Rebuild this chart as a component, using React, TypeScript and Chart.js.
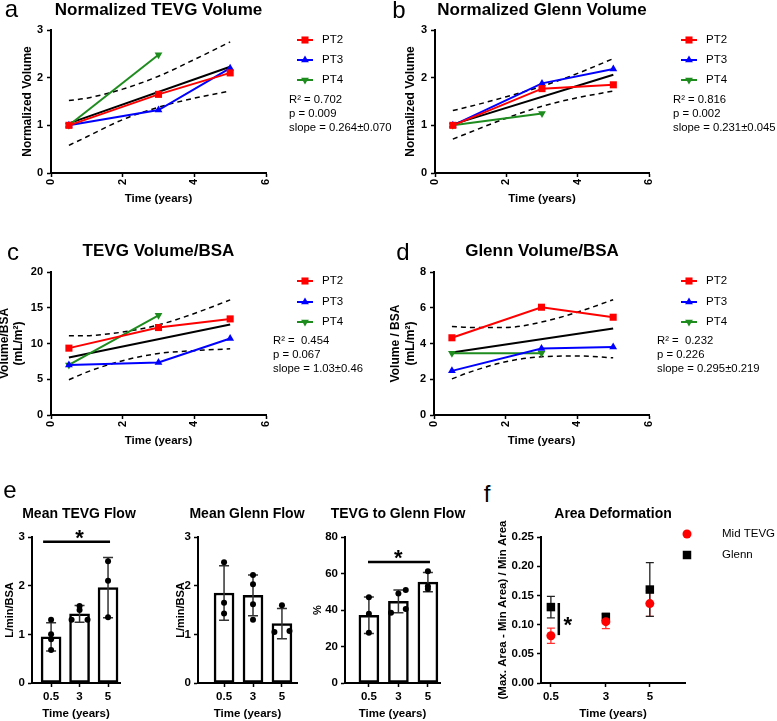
import React, { useEffect, useRef } from 'react';
import { Chart, registerables } from 'chart.js';
Chart.register(...registerables);

const FONT = "'Liberation Sans', Arial, Helvetica, sans-serif";
const RED = '#ff0000';
const BLUE = '#0000ff';
const GREEN = '#1e8c1e';
const BLACK = '#000000';

// ---------- shared x values and tick labels ----------
const timesAll = [0.5, 3, 5];
const timesPT4 = [0.5, 3];
const fitTimes = [0.5, 5];
const bandTimes = [0.5, 1, 2, 3, 4, 5];
const lineXTicks = [0, 2, 4, 6];
const seriesLabels = ['PT2', 'PT3', 'PT4'];

// ---------- a: Normalized TEVG Volume ----------
const aPT2 = [1.0, 1.65, 2.1];
const aPT3 = [1.0, 1.32, 2.2];
const aPT4 = [1.0, 2.48];
const aFit = [1.04, 2.23];
const aUpper = [1.52, 1.57, 1.76, 2.03, 2.38, 2.75];
const aLower = [0.58, 0.76, 1.12, 1.38, 1.57, 1.72];
const aYTicks = [0, 1, 2, 3];
const aStats = ['R² = 0.702', 'p = 0.009', 'slope = 0.264±0.070'];

// ---------- b: Normalized Glenn Volume ----------
const bPT2 = [1.0, 1.77, 1.85];
const bPT3 = [1.0, 1.88, 2.18];
const bPT4 = [1.0, 1.25];
const bFit = [1.02, 2.06];
const bUpper = [1.31, 1.4, 1.6, 1.82, 2.09, 2.4];
const bLower = [0.71, 0.86, 1.15, 1.4, 1.58, 1.72];
const bYTicks = [0, 1, 2, 3];
const bStats = ['R² = 0.816', 'p = 0.002', 'slope = 0.231±0.045'];

// ---------- c: TEVG Volume/BSA ----------
const cPT2 = [9.35, 12.23, 13.44];
const cPT3 = [7.0, 7.35, 10.7];
const cPT4 = [7.0, 13.95];
const cFit = [8.05, 12.65];
const cUpper = [11.07, 11.1, 11.6, 12.6, 14.2, 16.1];
const cLower = [4.93, 6.0, 7.6, 8.6, 9.0, 9.25];
const cYTicks = [0, 5, 10, 15, 20];
const cStats = ['R² =  0.454', 'p = 0.067', 'slope = 1.03±0.46'];

// ---------- d: Glenn Volume/BSA ----------
const dPT2 = [4.32, 6.03, 5.47];
const dPT3 = [2.47, 3.72, 3.8];
const dPT4 = [3.46, 3.46];
const dFit = [3.5, 4.84];
const dUpper = [4.95, 4.9, 4.9, 5.2, 5.75, 6.45];
const dLower = [2.02, 2.4, 2.98, 3.26, 3.3, 3.2];
const dYTicks = [0, 2, 4, 6, 8];
const dStats = ['R² =  0.232', 'p = 0.226', 'slope = 0.295±0.219'];

// ---------- e: flows ----------
const eCats = ['0.5', '3', '5'];
const e1Mean = [0.95, 1.42, 1.96];
const e1SD = [0.29, 0.17, 0.62];
const e1Dots = [[1.3, 1.0, 0.9, 0.68], [1.58, 1.5, 1.3, 1.3], [2.5, 2.1, 1.35]];
const e1YTicks = [0, 1, 2, 3];

const e2Mean = [1.85, 1.8, 1.22];
const e2SD = [0.56, 0.42, 0.31];
const e2Dots = [[2.48, 1.65, 1.43], [2.22, 2.03, 1.62, 1.3], [1.6, 1.05, 1.07]];
const e2YTicks = [0, 1, 2, 3];

const e3Mean = [37.1, 44.7, 55.3];
const e3SD = [10.0, 6.2, 5.3];
const e3Dots = [[47, 38, 27.5], [51, 49, 38.5, 40.5], [61.3, 53, 51.5]];
const e3YTicks = [0, 20, 40, 60, 80];

// ---------- f: Area Deformation ----------
const fTimes = [0.5, 3, 5];
const fTickLabels = ['0.5', '3', '5'];
const fMidTEVG = [0.081, 0.105, 0.136];
const fMidTEVGErr = [0.013, 0.012, 0.022];
const fGlenn = [0.13, 0.113, 0.16];
const fGlennErr = [0.0185, 0.006, 0.046];
const fYTicks = [0, 0.05, 0.1, 0.15, 0.2, 0.25];

// ---------- helpers ----------
type Box = { x: number; y: number; w: number; h: number };
type Area = { l: number; t: number; r: number; b: number };

const pts = (xs: number[], ys: number[]) => ys.map((y, i) => ({ x: xs[i], y }));

function drawMarker(ctx: CanvasRenderingContext2D, style: string, x: number, y: number, r: number, color: string, rot = 0) {
  ctx.save();
  ctx.fillStyle = color;
  ctx.beginPath();
  if (style === 'rect') {
    const s = r * Math.SQRT1_2;
    ctx.rect(x - s, y - s, 2 * s, 2 * s);
  } else if (style === 'triangle') {
    let rad = (rot * Math.PI) / 180;
    ctx.moveTo(x + Math.sin(rad) * r, y - Math.cos(rad) * r);
    rad += (2 * Math.PI) / 3;
    ctx.lineTo(x + Math.sin(rad) * r, y - Math.cos(rad) * r);
    rad += (2 * Math.PI) / 3;
    ctx.lineTo(x + Math.sin(rad) * r, y - Math.cos(rad) * r);
    ctx.closePath();
  } else {
    ctx.arc(x, y, r, 0, Math.PI * 2);
  }
  ctx.fill();
  ctx.restore();
}

type LegendItem = { label: string; color: string; style: string; r: number; rot?: number };

function legendPlugin(box: Box, items: LegendItem[], x0: number, x1: number, textX: number, ys: number[], size: number) {
  return {
    id: 'customLegend',
    afterDraw(chart: any) {
      const ctx = chart.ctx as CanvasRenderingContext2D;
      items.forEach((it, i) => {
        const y = ys[i] - box.y;
        ctx.save();
        if (x1 > x0) {
          ctx.strokeStyle = it.color;
          ctx.lineWidth = 2;
          ctx.beginPath();
          ctx.moveTo(x0 - box.x, y);
          ctx.lineTo(x1 - box.x, y);
          ctx.stroke();
        }
        drawMarker(ctx, it.style, (x0 + x1) / 2 - box.x, y, it.r, it.color, it.rot || 0);
        ctx.fillStyle = BLACK;
        ctx.font = `${size}px ${FONT}`;
        ctx.textAlign = 'left';
        ctx.textBaseline = 'middle';
        ctx.fillText(it.label, textX - box.x, y);
        ctx.restore();
      });
    },
  };
}

function barErrPlugin(sd: number[]) {
  return {
    id: 'barErr',
    afterDatasetDraw(chart: any, args: any) {
      if (args.index !== 0) return;
      const meta = chart.getDatasetMeta(0);
      const ys = chart.scales.y;
      const ctx = chart.ctx as CanvasRenderingContext2D;
      meta.data.forEach((el: any, i: number) => {
        const v = chart.data.datasets[0].data[i].y;
        const top = ys.getPixelForValue(v + sd[i]);
        const bot = ys.getPixelForValue(v - sd[i]);
        ctx.save();
        ctx.strokeStyle = '#333';
        ctx.lineWidth = 1.5;
        ctx.beginPath();
        ctx.moveTo(el.x, top);
        ctx.lineTo(el.x, bot);
        ctx.moveTo(el.x - 5, top);
        ctx.lineTo(el.x + 5, top);
        ctx.moveTo(el.x - 5, bot);
        ctx.lineTo(el.x + 5, bot);
        ctx.stroke();
        ctx.restore();
      });
    },
  };
}

function pointErrPlugin(errs: number[][], colors: string[]) {
  return {
    id: 'pointErr',
    beforeDatasetsDraw(chart: any) {
      const ys = chart.scales.y;
      const xs = chart.scales.x;
      const ctx = chart.ctx as CanvasRenderingContext2D;
      errs.forEach((err, d) => {
        chart.data.datasets[d].data.forEach((p: any, i: number) => {
          const x = xs.getPixelForValue(p.x);
          const top = ys.getPixelForValue(p.y + err[i]);
          const bot = ys.getPixelForValue(p.y - err[i]);
          ctx.save();
          ctx.strokeStyle = colors[d];
          ctx.lineWidth = 1.3;
          ctx.beginPath();
          ctx.moveTo(x, top);
          ctx.lineTo(x, bot);
          ctx.moveTo(x - 4, top);
          ctx.lineTo(x + 4, top);
          ctx.moveTo(x - 4, bot);
          ctx.lineTo(x + 4, bot);
          ctx.stroke();
          ctx.restore();
        });
      });
    },
  };
}

// lines: [x1, y1, x2, y2] in data units; stars: [x, y] glyph centre in data units
function sigPlugin(lines: number[][], stars: number[][], size: number) {
  return {
    id: 'sig',
    afterDatasetsDraw(chart: any) {
      const xs = chart.scales.x;
      const ys = chart.scales.y;
      const ctx = chart.ctx as CanvasRenderingContext2D;
      ctx.save();
      ctx.strokeStyle = BLACK;
      ctx.lineWidth = 2.5;
      lines.forEach(([x1, y1, x2, y2]) => {
        ctx.beginPath();
        ctx.moveTo(xs.getPixelForValue(x1), ys.getPixelForValue(y1));
        ctx.lineTo(xs.getPixelForValue(x2), ys.getPixelForValue(y2));
        ctx.stroke();
      });
      ctx.fillStyle = BLACK;
      ctx.font = `bold ${size}px ${FONT}`;
      ctx.textAlign = 'center';
      ctx.textBaseline = 'alphabetic';
      stars.forEach(([x, y]) => {
        ctx.fillText('*', xs.getPixelForValue(x), ys.getPixelForValue(y) + 0.57 * size);
      });
      ctx.restore();
    },
  };
}

function axisCommon() {
  return {
    grid: { display: true, drawOnChartArea: false, drawTicks: true, tickLength: 4, tickWidth: 1.5, tickColor: BLACK },
    border: { display: true, color: BLACK, width: 2 },
  };
}

function frame(box: Box, area: Area) {
  return {
    yW: area.l - box.x,
    xH: box.y + box.h - area.b,
    padTop: area.t - box.y,
    padRight: box.x + box.w - area.r,
  };
}

type LinePanel = {
  box: Box; area: Area;
  pt2: number[]; pt3: number[]; pt4: number[]; fit: number[]; upper: number[]; lower: number[];
  yTicks: number[]; yTitle: string | string[]; yTitlePad: number; yTitleLH: number;
  legendX0: number; legendY: number[];
};

function lineConfig(p: LinePanel) {
  const f = frame(p.box, p.area);
  const ci = { borderColor: BLACK, borderWidth: 1.5, borderDash: [5, 4], pointRadius: 0, showLine: true, cubicInterpolationMode: 'monotone' };
  const items: LegendItem[] = [
    { label: seriesLabels[0], color: RED, style: 'rect', r: 5 },
    { label: seriesLabels[1], color: BLUE, style: 'triangle', r: 4.5 },
    { label: seriesLabels[2], color: GREEN, style: 'triangle', r: 4.5, rot: 180 },
  ];
  return {
    type: 'scatter',
    data: {
      datasets: [
        { data: pts(timesAll, p.pt2), borderColor: RED, backgroundColor: RED, borderWidth: 2, showLine: true, pointStyle: 'rect', pointRadius: 5, pointBorderWidth: 0 },
        { data: pts(timesAll, p.pt3), borderColor: BLUE, backgroundColor: BLUE, borderWidth: 2, showLine: true, pointStyle: 'triangle', pointRadius: 4.5, pointBorderWidth: 0 },
        { data: pts(timesPT4, p.pt4), borderColor: GREEN, backgroundColor: GREEN, borderWidth: 2, showLine: true, pointStyle: 'triangle', pointRotation: 180, pointRadius: 4.5, pointBorderWidth: 0 },
        { data: pts(fitTimes, p.fit), borderColor: BLACK, borderWidth: 2, pointRadius: 0, showLine: true },
        { data: pts(bandTimes, p.upper), ...ci },
        { data: pts(bandTimes, p.lower), ...ci },
      ],
    },
    options: {
      responsive: false,
      animation: false,
      devicePixelRatio: 1,
      layout: { padding: { left: 0, top: f.padTop, right: f.padRight, bottom: 0 } },
      plugins: { legend: { display: false }, tooltip: { enabled: false } },
      scales: {
        x: {
          type: 'linear', min: 0, max: 6,
          ...axisCommon(),
          afterBuildTicks: (s: any) => { s.ticks = lineXTicks.map((v) => ({ value: v })); },
          ticks: { color: BLACK, font: { family: FONT, size: 11, weight: 'bold' }, minRotation: 90, maxRotation: 90, padding: 2 },
          title: { display: true, text: 'Time (years)', color: BLACK, font: { family: FONT, size: 11.5, weight: 'bold' }, padding: { top: 0, bottom: 0 } },
          afterFit: (s: any) => { s.height = f.xH; },
        },
        y: {
          type: 'linear', min: p.yTicks[0], max: p.yTicks[p.yTicks.length - 1],
          ...axisCommon(),
          afterBuildTicks: (s: any) => { s.ticks = p.yTicks.map((v) => ({ value: v })); },
          ticks: { color: BLACK, font: { family: FONT, size: 11, weight: 'bold' }, padding: 4 },
          title: { display: true, text: p.yTitle, color: BLACK, font: { family: FONT, size: 12, weight: 'bold', lineHeight: p.yTitleLH }, padding: { top: p.yTitlePad, bottom: 0 } },
          afterFit: (s: any) => { s.width = f.yW; },
        },
      },
    },
    plugins: [legendPlugin(p.box, items, p.legendX0, p.legendX0 + 16, p.legendX0 + 25, p.legendY, 11.5)],
  };
}

type BarPanel = {
  box: Box; area: Area; mean: number[]; sd: number[]; dots: number[][]; jitter: number[][];
  xMin: number; xMax: number; yTicks: number[]; yTitle: string; yTitlePad: number;
  sigLines: number[][]; sigStars: number[][];
};

function barConfig(p: BarPanel) {
  const f = frame(p.box, p.area);
  const dotData: { x: number; y: number }[] = [];
  p.dots.forEach((vals, i) => vals.forEach((v, j) => dotData.push({ x: i + (p.jitter[i][j] || 0), y: v })));
  return {
    type: 'bar',
    data: {
      datasets: [
        { type: 'bar', data: p.mean.map((m, i) => ({ x: i, y: m })), backgroundColor: '#ffffff', borderColor: BLACK, borderWidth: 2.5, borderSkipped: false, barThickness: 20, order: 2 },
        { type: 'scatter', data: dotData, backgroundColor: BLACK, borderColor: BLACK, pointRadius: 3, pointBorderWidth: 0, order: 1 },
      ],
    },
    options: {
      responsive: false,
      animation: false,
      devicePixelRatio: 1,
      layout: { padding: { left: 0, top: f.padTop, right: f.padRight, bottom: 0 } },
      plugins: { legend: { display: false }, tooltip: { enabled: false } },
      scales: {
        x: {
          type: 'linear', min: p.xMin, max: p.xMax, offset: false,
          ...axisCommon(),
          grid: { display: true, drawOnChartArea: false, drawTicks: true, tickLength: 4, tickWidth: 1.5, tickColor: BLACK, offset: false },
          afterBuildTicks: (s: any) => { s.ticks = eCats.map((_, i) => ({ value: i })); },
          ticks: { color: BLACK, font: { family: FONT, size: 11.5, weight: 'bold' }, padding: 3, maxRotation: 0, callback: (v: number) => eCats[Math.round(v)] },
          title: { display: true, text: 'Time (years)', color: BLACK, font: { family: FONT, size: 11.5, weight: 'bold' }, padding: { top: 0, bottom: 0 } },
          afterFit: (s: any) => { s.height = f.xH; },
        },
        y: {
          type: 'linear', min: p.yTicks[0], max: p.yTicks[p.yTicks.length - 1],
          ...axisCommon(),
          afterBuildTicks: (s: any) => { s.ticks = p.yTicks.map((v) => ({ value: v })); },
          ticks: { color: BLACK, font: { family: FONT, size: 11.5, weight: 'bold' }, padding: 3 },
          title: { display: true, text: p.yTitle, color: BLACK, font: { family: FONT, size: 11, weight: 'bold' }, padding: { top: p.yTitlePad, bottom: 0 } },
          afterFit: (s: any) => { s.width = f.yW; },
        },
      },
    },
    plugins: [barErrPlugin(p.sd), sigPlugin(p.sigLines, p.sigStars, 22)],
  };
}

function fConfig(box: Box, area: Area) {
  const f = frame(box, area);
  const items: LegendItem[] = [
    { label: 'Mid TEVG', color: RED, style: 'circle', r: 4.5 },
    { label: 'Glenn', color: BLACK, style: 'rect', r: 6 },
  ];
  return {
    type: 'scatter',
    data: {
      datasets: [
        { data: pts(fTimes, fMidTEVG), backgroundColor: RED, borderColor: RED, pointRadius: 4.5, pointBorderWidth: 0, pointStyle: 'circle' },
        { data: pts(fTimes, fGlenn), backgroundColor: BLACK, borderColor: BLACK, pointRadius: 6, pointBorderWidth: 0, pointStyle: 'rect' },
      ],
    },
    options: {
      responsive: false,
      animation: false,
      devicePixelRatio: 1,
      layout: { padding: { left: 0, top: f.padTop, right: f.padRight, bottom: 0 } },
      plugins: { legend: { display: false }, tooltip: { enabled: false } },
      scales: {
        x: {
          type: 'linear', min: 0.05, max: 6.6,
          ...axisCommon(),
          afterBuildTicks: (s: any) => { s.ticks = fTimes.map((v) => ({ value: v })); },
          ticks: { color: BLACK, font: { family: FONT, size: 11.5, weight: 'bold' }, padding: 3, maxRotation: 0, callback: (v: number) => fTickLabels[fTimes.indexOf(v)] },
          title: { display: true, text: 'Time (years)', color: BLACK, font: { family: FONT, size: 11.5, weight: 'bold' }, padding: { top: 0, bottom: 0 } },
          afterFit: (s: any) => { s.height = f.xH; },
        },
        y: {
          type: 'linear', min: 0, max: 0.25,
          ...axisCommon(),
          afterBuildTicks: (s: any) => { s.ticks = fYTicks.map((v) => ({ value: v })); },
          ticks: { color: BLACK, font: { family: FONT, size: 11.5, weight: 'bold' }, padding: 3, callback: (v: number) => v.toFixed(2) },
          title: { display: true, text: '(Max. Area - Min Area) / Min Area', color: BLACK, font: { family: FONT, size: 11.5, weight: 'bold' }, padding: { top: 6, bottom: 0 } },
          afterFit: (s: any) => { s.width = f.yW; },
        },
      },
    },
    plugins: [
      pointErrPlugin([fMidTEVGErr, fGlennErr], ['#ff3030', '#222222']),
      sigPlugin([[0.86, 0.082, 0.86, 0.137]], [[1.27, 0.108]], 22),
      legendPlugin(box, items, 687, 687, 722, [534, 555], 11.5),
    ],
  };
}

function ChartBox({ box, make }: { box: Box; make: () => any }) {
  const ref = useRef<HTMLCanvasElement | null>(null);
  useEffect(() => {
    const chart = new Chart(ref.current as HTMLCanvasElement, make());
    return () => chart.destroy();
  }, []);
  return (
    <canvas
      ref={ref}
      width={box.w}
      height={box.h}
      style={{ position: 'absolute', left: box.x, top: box.y, width: box.w, height: box.h }}
    />
  );
}

function Txt({ x, y, size, bold, align = 'center', children }: { x: number; y: number; size: number; bold?: boolean; align?: string; children: any }) {
  return (
    <div
      style={{
        position: 'absolute', left: x, top: y,
        transform: `translate(${align === 'center' ? '-50%' : '0'}, -50%)`,
        fontFamily: FONT, fontSize: size, fontWeight: bold ? 700 : 400,
        lineHeight: 1, whiteSpace: 'pre', color: BLACK,
      }}
    >
      {children}
    </div>
  );
}

function Stats({ x, y, lines }: { x: number; y: number; lines: string[] }) {
  return (
    <>
      {lines.map((l, i) => (
        <Txt key={i} x={x} y={y + i * 14} size={11.3} align="left">{l}</Txt>
      ))}
    </>
  );
}

const boxA: Box = { x: 0, y: 0, w: 390, h: 206 };
const areaA: Area = { l: 51, t: 30, r: 266, b: 173 };
const boxB: Box = { x: 390, y: 0, w: 387, h: 206 };
const areaB: Area = { l: 435, t: 30, r: 649, b: 173 };
const boxC: Box = { x: 0, y: 242, w: 390, h: 206 };
const areaC: Area = { l: 51, t: 272, r: 266, b: 415 };
const boxD: Box = { x: 390, y: 242, w: 387, h: 206 };
const areaD: Area = { l: 434, t: 272, r: 649, b: 415 };
const boxE1: Box = { x: 0, y: 520, w: 160, h: 201 };
const areaE1: Area = { l: 32, t: 537, r: 120, b: 683 };
const boxE2: Box = { x: 160, y: 520, w: 145, h: 201 };
const areaE2: Area = { l: 198, t: 537, r: 297, b: 683 };
const boxE3: Box = { x: 305, y: 520, w: 165, h: 201 };
const areaE3: Area = { l: 345, t: 537, r: 440, b: 683 };
const boxF: Box = { x: 490, y: 520, w: 287, h: 201 };
const areaF: Area = { l: 541, t: 537, r: 685, b: 683 };

export default function App() {
  return (
    <div style={{ position: 'fixed', left: 0, top: 0, width: 777, height: 721, background: '#ffffff', overflow: 'hidden' }}>
      <ChartBox box={boxA} make={() => lineConfig({
        box: boxA, area: areaA, pt2: aPT2, pt3: aPT3, pt4: aPT4, fit: aFit, upper: aUpper, lower: aLower,
        yTicks: aYTicks, yTitle: 'Normalized Volume', yTitlePad: 20, yTitleLH: 1.2, legendX0: 297, legendY: [40, 60, 80],
      })} />
      <ChartBox box={boxB} make={() => lineConfig({
        box: boxB, area: areaB, pt2: bPT2, pt3: bPT3, pt4: bPT4, fit: bFit, upper: bUpper, lower: bLower,
        yTicks: bYTicks, yTitle: 'Normalized Volume', yTitlePad: 13, yTitleLH: 1.2, legendX0: 681, legendY: [40, 60, 80],
      })} />
      <ChartBox box={boxC} make={() => lineConfig({
        box: boxC, area: areaC, pt2: cPT2, pt3: cPT3, pt4: cPT4, fit: cFit, upper: cUpper, lower: cLower,
        yTicks: cYTicks, yTitle: ['Volume/BSA', '(mL/m²)'], yTitlePad: -2, yTitleLH: 1.17, legendX0: 297, legendY: [281, 302, 322],
      })} />
      <ChartBox box={boxD} make={() => lineConfig({
        box: boxD, area: areaD, pt2: dPT2, pt3: dPT3, pt4: dPT4, fit: dFit, upper: dUpper, lower: dLower,
        yTicks: dYTicks, yTitle: ['Volume / BSA', '(mL/m²)'], yTitlePad: -2, yTitleLH: 1.25, legendX0: 681, legendY: [281, 302, 322],
      })} />
      <ChartBox box={boxE1} make={() => barConfig({
        box: boxE1, area: areaE1, mean: e1Mean, sd: e1SD, dots: e1Dots,
        jitter: [[0, 0, 0, 0], [0, 0, -0.28, 0.28], [0, 0, 0]],
        xMin: -0.67, xMax: 2.42, yTicks: e1YTicks, yTitle: 'L/min/BSA', yTitlePad: 3.4,
        sigLines: [[-0.28, 2.9, 2.07, 2.9]], sigStars: [[1, 3.1]],
      })} />
      <ChartBox box={boxE2} make={() => barConfig({
        box: boxE2, area: areaE2, mean: e2Mean, sd: e2SD, dots: e2Dots,
        jitter: [[0, 0, 0], [0, 0, 0, 0], [0, -0.26, 0.26]],
        xMin: -0.9, xMax: 2.52, yTicks: e2YTicks, yTitle: 'L/min/BSA', yTitlePad: 14.4,
        sigLines: [], sigStars: [],
      })} />
      <ChartBox box={boxE3} make={() => barConfig({
        box: boxE3, area: areaE3, mean: e3Mean, sd: e3SD, dots: e3Dots,
        jitter: [[0, 0, 0], [0.25, 0, -0.25, 0.25], [0, 0, 0]],
        xMin: -0.81, xMax: 2.41, yTicks: e3YTicks, yTitle: '%', yTitlePad: 6.4,
        sigLines: [[-0.03, 66.3, 2.07, 66.3]], sigStars: [[1, 71.8]],
      })} />
      <ChartBox box={boxF} make={() => fConfig(boxF, areaF)} />

      <Txt x={11.5} y={8.5} size={24}>a</Txt>
      <Txt x={399} y={9.5} size={24}>b</Txt>
      <Txt x={13} y={252} size={24}>c</Txt>
      <Txt x={403} y={252} size={24}>d</Txt>
      <Txt x={10} y={489.5} size={24}>e</Txt>
      <Txt x={487} y={494} size={24}>f</Txt>

      <Txt x={158.5} y={8.5} size={17} bold>Normalized TEVG Volume</Txt>
      <Txt x={542} y={8.5} size={17} bold>Normalized Glenn Volume</Txt>
      <Txt x={158.5} y={250} size={17} bold>TEVG Volume/BSA</Txt>
      <Txt x={542} y={250} size={17} bold>Glenn Volume/BSA</Txt>
      <Txt x={79} y={513} size={14} bold>Mean TEVG Flow</Txt>
      <Txt x={247} y={513} size={14} bold>Mean Glenn Flow</Txt>
      <Txt x={398} y={513} size={14} bold>TEVG to Glenn Flow</Txt>
      <Txt x={613} y={513} size={14} bold>Area Deformation</Txt>

      <Stats x={289} y={100} lines={aStats} />
      <Stats x={673} y={100} lines={bStats} />
      <Stats x={273} y={341} lines={cStats} />
      <Stats x={657} y={341} lines={dStats} />
    </div>
  );
}
